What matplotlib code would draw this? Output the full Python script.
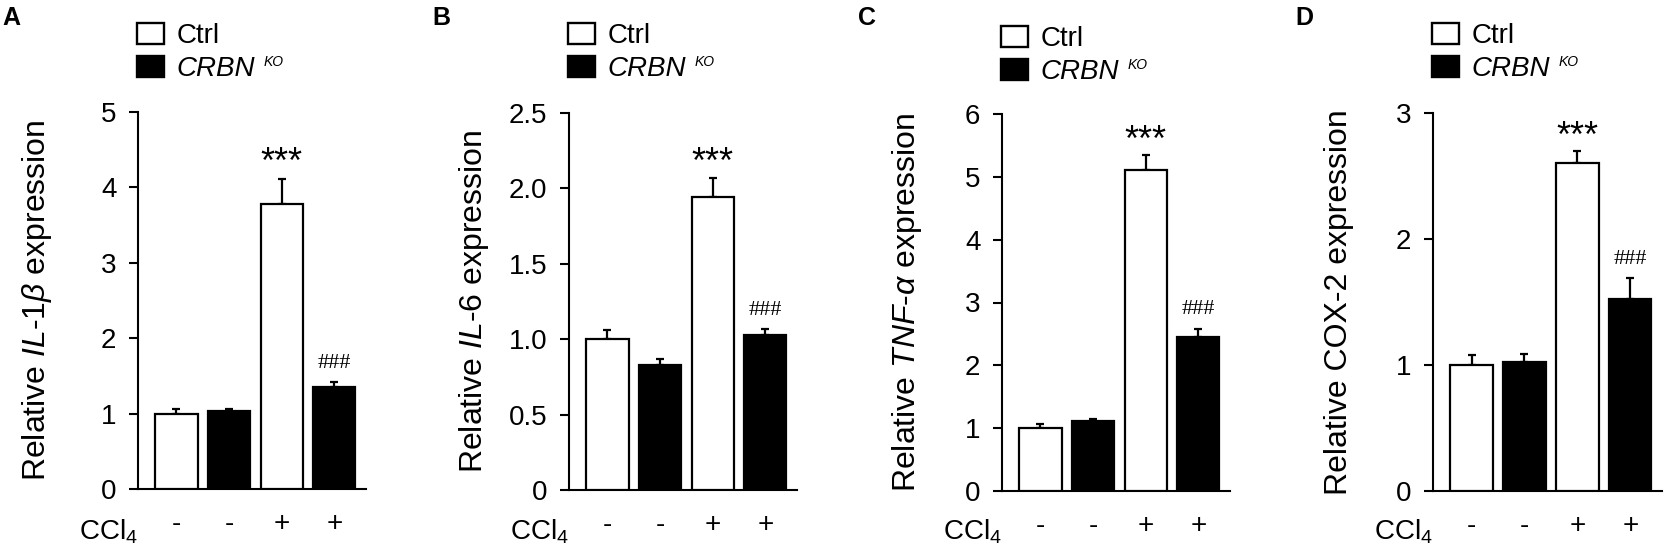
import matplotlib
matplotlib.use('Agg')
import matplotlib.pyplot as plt
from matplotlib.patches import Patch

plt.rcParams['font.family'] = 'Liberation Sans'
plt.rcParams['mathtext.fontset'] = 'custom'
plt.rcParams['mathtext.rm'] = 'Liberation Sans'
plt.rcParams['mathtext.it'] = 'Liberation Sans:italic'
plt.rcParams['mathtext.bf'] = 'Liberation Sans:bold'

# x categories: CCl4 treatment for Ctrl / CRBN KO bars
ccl4_labels = ['-', '-', '+', '+']
bar_colors = ['white', 'black', 'white', 'black']

# relative expression (mean, upper error)
il1b_mean = [1.00, 1.03, 3.78, 1.35]
il1b_err = [0.06, 0.03, 0.33, 0.07]
il6_mean = [1.00, 0.83, 1.94, 1.03]
il6_err = [0.06, 0.04, 0.13, 0.04]
tnfa_mean = [1.00, 1.11, 5.11, 2.45]
tnfa_err = [0.07, 0.04, 0.23, 0.13]
cox2_mean = [1.00, 1.02, 2.60, 1.52]
cox2_err = [0.08, 0.07, 0.10, 0.17]

panels = [
    dict(letter='A', ylabel=r'Relative $\mathit{IL}$-$\mathit{1\beta}$ expression',
         mean=il1b_mean, err=il1b_err, yticks=[0, 1, 2, 3, 4, 5],
         yticklabels=['0', '1', '2', '3', '4', '5'], star=4.43, hashes=1.71,
         box=(138, 366, 112, 489), lab_x=-0.37, letter_x=2, leg_top=23),
    dict(letter='B', ylabel=r'Relative $\mathit{IL}$-$\mathit{6}$ expression',
         mean=il6_mean, err=il6_err, yticks=[0, 0.5, 1.0, 1.5, 2.0, 2.5],
         yticklabels=['0', '0.5', '1.0', '1.5', '2.0', '2.5'], star=2.225, hashes=1.21,
         box=(569, 797, 113, 490), lab_x=-0.342, letter_x=432, leg_top=23),
    dict(letter='C', ylabel=r'Relative $\mathit{TNF}$-$\mathit{\alpha}$ expression',
         mean=tnfa_mean, err=tnfa_err, yticks=[0, 1, 2, 3, 4, 5, 6],
         yticklabels=['0', '1', '2', '3', '4', '5', '6'], star=5.70, hashes=2.93,
         box=(1002, 1230, 114, 491), lab_x=-0.342, letter_x=858, leg_top=26),
    dict(letter='D', ylabel='Relative COX-2 expression',
         mean=cox2_mean, err=cox2_err, yticks=[0, 1, 2, 3],
         yticklabels=['0', '1', '2', '3'], star=2.873, hashes=1.865,
         box=(1433, 1662, 113, 491), lab_x=-0.345, letter_x=1295, leg_top=23),
]

W, H = 1667, 559
fig = plt.figure(figsize=(W / 100, H / 100), dpi=100)

x = [0, 1, 2, 3]
lw = 1.6
legends = []

for p in panels:
    x0, x1, top, bot = p['box']
    ax = fig.add_axes([x0 / W, 1 - bot / H, (x1 - x0) / W, (bot - top) / H])

    ax.bar(x, p['mean'], width=0.8, color=bar_colors, edgecolor='black',
           linewidth=lw, zorder=3)
    ax.errorbar(x, p['mean'], yerr=[[0] * 4, p['err']], fmt='none',
                ecolor='black', elinewidth=lw, capsize=3, capthick=lw, zorder=2)

    ax.set_xlim(-0.73, 3.60)
    ax.set_ylim(0, p['yticks'][-1])
    ax.set_yticks(p['yticks'])
    ax.set_yticklabels(p['yticklabels'])
    ax.set_xticks(x)
    ax.set_xticklabels(ccl4_labels)

    for s in ['top', 'right']:
        ax.spines[s].set_visible(False)
    for s in ['left', 'bottom']:
        ax.spines[s].set_linewidth(1.5)

    ax.tick_params(axis='y', direction='out', length=6.5, width=1.5,
                   labelsize=20, pad=9)
    ax.tick_params(axis='x', length=0, labelsize=20, pad=16)

    ax.set_ylabel(p['ylabel'], fontsize=23)
    ax.yaxis.set_label_coords(p['lab_x'], 0.5)

    ax.text(0.0, (bot - 540) / (bot - top), r'CCl$_4$', transform=ax.transAxes,
            ha='right', va='baseline', fontsize=20)

    # significance marks
    ax.annotate('***', xy=(2, p['star']), xytext=(0, -0.5 * 26),
                textcoords='offset points', ha='center', va='baseline',
                fontsize=26)
    ax.annotate('###', xy=(3, p['hashes']), xytext=(0, -0.34 * 16),
                textcoords='offset points', ha='center', va='baseline',
                fontsize=16, family='Liberation Serif')

    handles = [Patch(facecolor='white', edgecolor='black', linewidth=1.7, label='Ctrl'),
               Patch(facecolor='black', edgecolor='black', linewidth=1.7, label='CRBN')]
    leg = ax.legend(handles=handles, loc='upper left',
                    bbox_to_anchor=(-0.005, 1 + (top - p['leg_top']) / (bot - top)),
                    frameon=False, fontsize=20, borderpad=0, borderaxespad=0,
                    handlelength=0.97, handleheight=0.76, handletextpad=0.45,
                    labelspacing=0.26)
    leg.get_texts()[1].set_fontstyle('italic')
    legends.append(leg)

    fig.text(p['letter_x'] / W, 1 - 25 / H, p['letter'], fontsize=18,
             fontweight='bold', ha='left', va='baseline')

# superscript "KO" after the italic CRBN legend entry
fig.canvas.draw()
renderer = fig.canvas.get_renderer()
for leg in legends:
    t = leg.get_texts()[1]
    bb = t.get_window_extent(renderer)
    _, _, d = renderer.get_text_width_height_descent('lp', t.get_fontproperties(), ismath=False)
    baseline = bb.y0 + d
    fig.text((bb.x1 + 9) / W, (baseline + 10) / H, 'KO', fontsize=10,
             fontstyle='italic', ha='left', va='baseline')

fig.savefig('out.png', dpi=100)
